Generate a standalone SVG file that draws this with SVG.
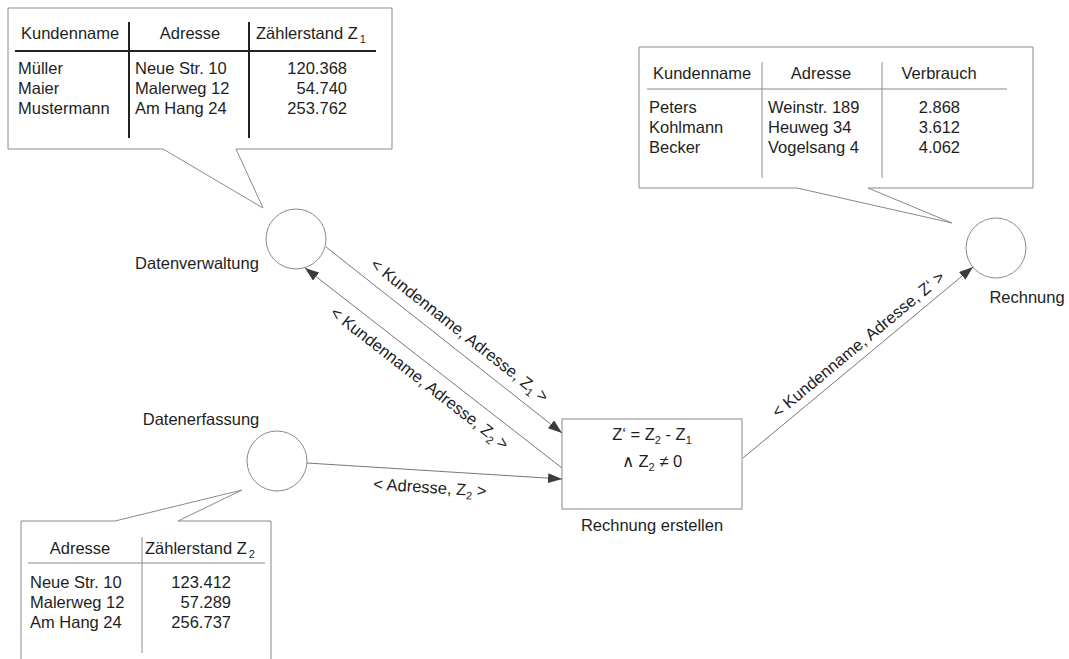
<svg xmlns="http://www.w3.org/2000/svg" width="1069" height="659" viewBox="0 0 1069 659">
  <defs>
    <style>
      text { font-family: "Liberation Sans", Arial, sans-serif; font-size: 16.5px; fill: #1e1e1e; }
      .sub { font-size: 11px; }
      .callout { fill: #ffffff; stroke: #8a8a8a; stroke-width: 1; }
      .node { fill: #ffffff; stroke: #8a8a8a; stroke-width: 1; }
      .flow { fill: none; stroke: #777777; stroke-width: 1; marker-end: url(#arrow); }
      .rule-dark { stroke: #222222; stroke-width: 2; }
      .rule-light { stroke: #c4c4c4; stroke-width: 2; }
      .rule-thin { stroke: #8c8c8c; stroke-width: 1; }
      .mid { text-anchor: middle; }
      .end { text-anchor: end; }
    </style>
    <marker id="arrow" viewBox="0 0 14 10" refX="14" refY="5" markerWidth="14" markerHeight="10" markerUnits="userSpaceOnUse" orient="auto">
      <path d="M0,0 L14,5 L0,10 Z" fill="#3c3c3c"/>
    </marker>
  </defs>

  <!-- Data store: meter readings Z1 -->
  <g id="table-bestand">
    <path class="callout" d="M8,8 H392 V149 H236 L263,208 L163,149 H8 Z"/>
    <line class="rule-dark" x1="15" y1="51" x2="376" y2="51"/>
    <line class="rule-dark" x1="129" y1="22" x2="129" y2="138"/>
    <line class="rule-dark" x1="249" y1="22" x2="249" y2="138"/>
    <text x="21" y="39">Kundenname</text>
    <text class="mid" x="190" y="39">Adresse</text>
    <text x="256" y="39">Zählerstand Z<tspan class="sub" dx="2" dy="4">1</tspan></text>
    <text x="18" y="74">Müller</text>
    <text x="18" y="94">Maier</text>
    <text x="18" y="114">Mustermann</text>
    <text x="135" y="74">Neue Str. 10</text>
    <text x="135" y="94">Malerweg 12</text>
    <text x="135" y="114">Am Hang 24</text>
    <text class="end" x="347" y="74">120.368</text>
    <text class="end" x="347" y="94">54.740</text>
    <text class="end" x="347" y="114">253.762</text>
  </g>

  <!-- Output: consumption per customer -->
  <g id="table-verbrauch">
    <path class="callout" d="M639,47 H1033 V188 H868 L952,223 L797,188 H639 Z"/>
    <line class="rule-light" x1="647" y1="89" x2="1007" y2="89"/>
    <line class="rule-thin" x1="762" y1="62" x2="762" y2="178"/>
    <line class="rule-thin" x1="882" y1="62" x2="882" y2="178"/>
    <text x="653" y="79">Kundenname</text>
    <text class="mid" x="821" y="79">Adresse</text>
    <text class="mid" x="939" y="79">Verbrauch</text>
    <text x="649" y="113">Peters</text>
    <text x="649" y="133">Kohlmann</text>
    <text x="649" y="153">Becker</text>
    <text x="768" y="113">Weinstr. 189</text>
    <text x="768" y="133">Heuweg 34</text>
    <text x="768" y="153">Vogelsang 4</text>
    <text class="end" x="960" y="113">2.868</text>
    <text class="end" x="960" y="133">3.612</text>
    <text class="end" x="960" y="153">4.062</text>
  </g>

  <!-- Input: new meter readings Z2 -->
  <g id="table-erfassung">
    <path class="callout" d="M21,670 V521 H115 L242,490 L178,521 H271 V670"/>
    <line class="rule-light" x1="28" y1="563" x2="265" y2="563"/>
    <line class="rule-thin" x1="142" y1="537" x2="142" y2="653"/>
    <text class="mid" x="80" y="554">Adresse</text>
    <text x="145" y="554">Zählerstand Z<tspan class="sub" dx="2" dy="4">2</tspan></text>
    <text x="30" y="588">Neue Str. 10</text>
    <text x="30" y="608">Malerweg 12</text>
    <text x="30" y="628">Am Hang 24</text>
    <text class="end" x="231" y="588">123.412</text>
    <text class="end" x="231" y="608">57.289</text>
    <text class="end" x="231" y="628">256.737</text>
  </g>

  <!-- Processes -->
  <g id="datenverwaltung">
    <circle class="node" cx="296" cy="239" r="30"/>
    <text class="mid" x="197" y="269">Datenverwaltung</text>
  </g>
  <g id="datenerfassung">
    <circle class="node" cx="277" cy="461" r="30"/>
    <text class="mid" x="201" y="425">Datenerfassung</text>
  </g>
  <g id="rechnung">
    <circle class="node" cx="996" cy="248" r="30"/>
    <text class="mid" x="1027" y="303">Rechnung</text>
  </g>
  <g id="rechnung-erstellen">
    <rect class="node" x="562" y="419" width="180" height="90"/>
    <text class="mid" x="652" y="440">Z‘ = Z<tspan class="sub" dy="4">2</tspan><tspan dy="-4"> - Z</tspan><tspan class="sub" dy="4">1</tspan></text>
    <text class="mid" x="652" y="467">∧ Z<tspan class="sub" dy="4">2</tspan><tspan dy="-4"> ≠ 0</tspan></text>
    <text class="mid" x="652" y="531">Rechnung erstellen</text>
  </g>

  <!-- Data flows -->
  <g id="connectors">
    <line class="flow" x1="326" y1="247" x2="562" y2="433"/>
    <line class="flow" x1="562" y1="468" x2="305" y2="268"/>
    <line class="flow" x1="307" y1="463" x2="562" y2="479"/>
    <line class="flow" x1="743" y1="458" x2="973" y2="267"/>

    <text class="mid" transform="translate(460,330) rotate(38.2)" x="0" y="6">&lt; Kundenname, Adresse, Z<tspan class="sub" dy="4">1</tspan><tspan dy="-4"> &gt;</tspan></text>
    <text class="mid" transform="translate(420,378) rotate(37.9)" x="0" y="6">&lt; Kundenname, Adresse, Z<tspan class="sub" dy="4">2</tspan><tspan dy="-4"> &gt;</tspan></text>
    <text class="mid" transform="translate(430,487) rotate(3.6)" x="0" y="6">&lt; Adresse, Z<tspan class="sub" dy="4">2</tspan><tspan dy="-4"> &gt;</tspan></text>
    <text class="mid" transform="translate(858,344) rotate(-39.7)" x="0" y="6">&lt; Kundenname, Adresse, Z‘ &gt;</text>
  </g>
</svg>
